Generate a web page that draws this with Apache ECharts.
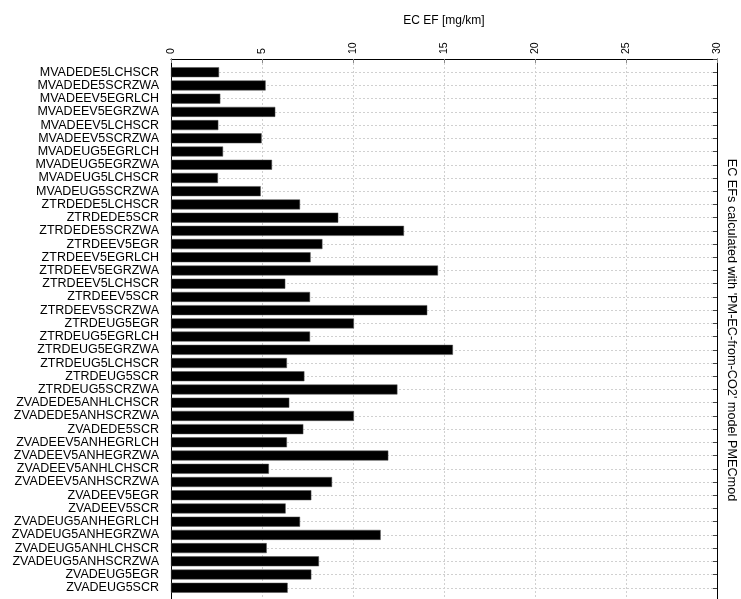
<!DOCTYPE html>
<html>
<head>
<meta charset="utf-8">
<script src="https://cdn.jsdelivr.net/npm/echarts@6/dist/echarts.min.js"></script>
<style>
html,body{margin:0;padding:0;background:#fff;}
#chart{width:741px;height:599px;}
</style>
</head>
<body>
<div id="chart"></div>
<script>
var categories = [
  'MVADEDE5LCHSCR','MVADEDE5SCRZWA','MVADEEV5EGRLCH','MVADEEV5EGRZWA','MVADEEV5LCHSCR',
  'MVADEEV5SCRZWA','MVADEUG5EGRLCH','MVADEUG5EGRZWA','MVADEUG5LCHSCR','MVADEUG5SCRZWA',
  'ZTRDEDE5LCHSCR','ZTRDEDE5SCR','ZTRDEDE5SCRZWA','ZTRDEEV5EGR','ZTRDEEV5EGRLCH',
  'ZTRDEEV5EGRZWA','ZTRDEEV5LCHSCR','ZTRDEEV5SCR','ZTRDEEV5SCRZWA','ZTRDEUG5EGR',
  'ZTRDEUG5EGRLCH','ZTRDEUG5EGRZWA','ZTRDEUG5LCHSCR','ZTRDEUG5SCR','ZTRDEUG5SCRZWA',
  'ZVADEDE5ANHLCHSCR','ZVADEDE5ANHSCRZWA','ZVADEDE5SCR','ZVADEEV5ANHEGRLCH','ZVADEEV5ANHEGRZWA',
  'ZVADEEV5ANHLCHSCR','ZVADEEV5ANHSCRZWA','ZVADEEV5EGR','ZVADEEV5SCR','ZVADEUG5ANHEGRLCH',
  'ZVADEUG5ANHEGRZWA','ZVADEUG5ANHLCHSCR','ZVADEUG5ANHSCRZWA','ZVADEUG5EGR','ZVADEUG5SCR'
];
var ecValues = [
  2.64, 5.20, 2.71, 5.73, 2.60,
  4.98, 2.86, 5.55, 2.58, 4.93,
  7.09, 9.19, 12.80, 8.32, 7.67,
  14.67, 6.28, 7.64, 14.08, 10.05,
  7.64, 15.49, 6.37, 7.33, 12.44,
  6.50, 10.05, 7.27, 6.37, 11.94,
  5.38, 8.85, 7.71, 6.30, 7.09,
  11.52, 5.26, 8.13, 7.71, 6.41
];
var xTicks = [0, 5, 10, 15, 20, 25, 30];
var xTitle = 'EC EF [mg/km]';
var sideTitle = "EC EFs calculated with 'PM-EC-from-CO2' model PMECmod";

// pad with empty slots so the axis runs from 0 to N+1
var yCats = [''].concat(categories, ['']);
var yVals = ['-'].concat(ecValues, ['-']);

var FONT = 'Liberation Sans, Arial, sans-serif';
var chart = echarts.init(document.getElementById('chart'), null, {renderer: 'canvas'});
chart.setOption({
  animation: false,
  backgroundColor: '#fff',
  grid: {left: 171, top: 59, width: 546, height: 542, containLabel: false, outerBoundsMode: 'none'},
  xAxis: {
    type: 'value', position: 'top',
    min: xTicks[0], max: xTicks[xTicks.length - 1], interval: 5,
    name: xTitle, nameLocation: 'middle', nameGap: 32,
    nameTextStyle: {fontFamily: FONT, fontSize: 12, color: '#000'},
    axisLine: {show: true, lineStyle: {color: '#000', width: 1}},
    axisTick: {show: true, inside: true, length: 4, lineStyle: {color: '#888'}},
    axisLabel: {rotate: -90, fontFamily: FONT, fontSize: 10.5, color: '#000', margin: 5},
    splitLine: {show: true, lineStyle: {color: '#d0d0d0', type: [2, 2], width: 1}}
  },
  yAxis: [{
    type: 'category', data: yCats, inverse: true, boundaryGap: false,
    axisLine: {show: true, lineStyle: {color: '#000', width: 1}},
    axisTick: {show: false},
    axisLabel: {interval: 0, fontFamily: FONT, fontSize: 12.5, color: '#000', margin: 12},
    splitLine: {show: true, interval: 0, lineStyle: {color: '#d0d0d0', type: [2, 2], width: 1}}
  }, {
    type: 'category', data: yCats, inverse: true, boundaryGap: false, position: 'right',
    name: sideTitle, nameLocation: 'middle', nameRotate: -90, nameGap: 8,
    nameTextStyle: {fontFamily: FONT, fontSize: 12.7, color: '#000'},
    axisLine: {show: true, lineStyle: {color: '#000', width: 1}},
    axisTick: {show: true, inside: true, length: 4, interval: 0, lineStyle: {color: '#444'}},
    axisLabel: {show: false},
    splitLine: {show: false}
  }],
  series: [{
    type: 'bar', yAxisIndex: 0, data: yVals, barWidth: 10,
    itemStyle: {color: '#000', borderColor: '#555', borderWidth: 0.5}
  }]
});
</script>
</body>
</html>
